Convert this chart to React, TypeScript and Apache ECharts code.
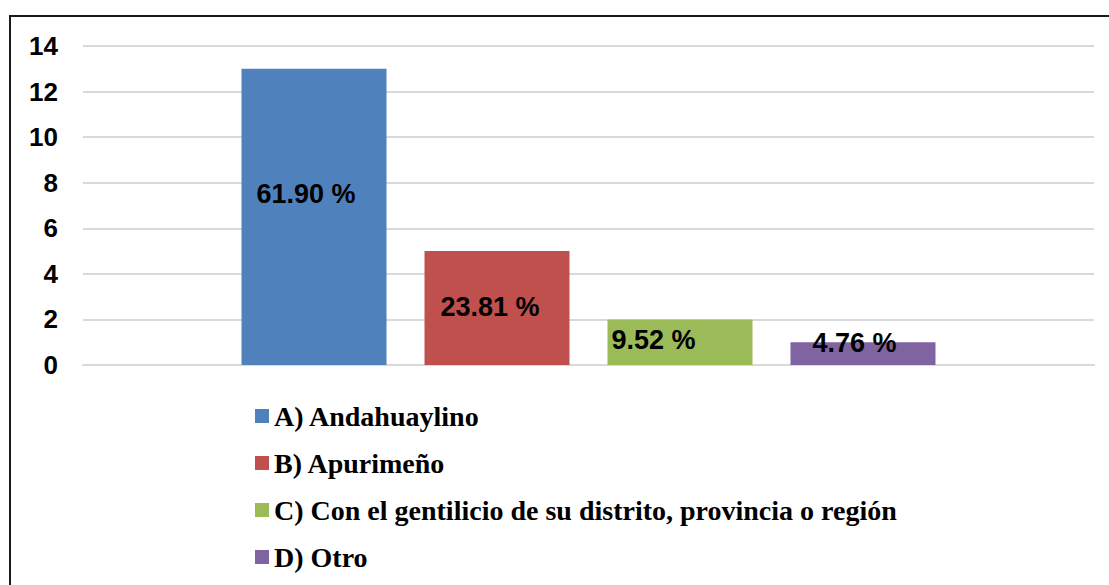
import React, { useEffect, useRef } from "react";
import * as echarts from "echarts";

const categories = [
  "A) Andahuaylino",
  "B) Apurimeño",
  "C) Con el gentilicio de su distrito, provincia o región",
  "D) Otro",
];
const values = [13, 5, 2, 1];
const percentLabels = ["61.90 %", "23.81 %", "9.52 %", "4.76 %"];
const yTicks = { min: 0, max: 14, interval: 2 };

const colors = ["#4F81BD", "#C0504D", "#9BBB59", "#8064A2"];
const labelOffsets: [number, number][] = [
  [15, 125],
  [16, 56],
  [4, 21],
  [22, 1],
];
const SERIF = "Liberation Serif";
const SANS = "Liberation Sans";

export default function App() {
  const ref = useRef<HTMLDivElement>(null);
  useEffect(() => {
    if (!ref.current) return;
    const chart = echarts.init(ref.current, undefined, { renderer: "svg" });
    chart.setOption({
      animation: false,
      backgroundColor: "#ffffff",
      textStyle: { fontFamily: SERIF },
      grid: { left: 83, right: 15, top: 46, bottom: 220, containLabel: false },
      xAxis: {
        type: "category",
        data: [""],
        axisTick: { show: false },
        axisLabel: { show: false },
        axisLine: { lineStyle: { color: "#d9d9d9", width: 2 } },
      },
      yAxis: {
        type: "value",
        min: yTicks.min,
        max: yTicks.max,
        interval: yTicks.interval,
        axisLine: { show: false },
        axisTick: { show: false },
        axisLabel: {
          color: "#000",
          fontFamily: SANS,
          fontWeight: "bold",
          fontSize: 26,
          margin: 25,
        },
        splitLine: { lineStyle: { color: "#d9d9d9", width: 2 } },
      },
      legend: {
        orient: "vertical",
        left: 250,
        top: 397,
        itemWidth: 14,
        itemHeight: 14,
        itemGap: 19,
        icon: "rect",
        formatter: "{s|{name}}",
        textStyle: {
          color: "#000",
          fontFamily: SERIF,
          fontWeight: "bold",
          fontSize: 28,
          rich: {
            s: {
              color: "#000",
              fontFamily: SERIF,
              fontWeight: "bold",
              fontSize: 28,
              lineHeight: 28,
            },
          },
        },
        data: categories,
      },
      graphic: [
        {
          type: "rect",
          shape: { x: 10, y: 16, width: 1200, height: 700 },
          style: { fill: "none", stroke: "#1a1a1a", lineWidth: 2 },
          silent: true,
        },
      ],
      series: categories.map((name, i) => ({
        type: "bar",
        name,
        data: [values[i]],
        barWidth: 145,
        barGap: "26.2%",
        itemStyle: { color: colors[i] },
        label: {
          show: true,
          position: labelOffsets[i],
          align: "left",
          verticalAlign: "middle",
          formatter: () => percentLabels[i],
          color: "#000",
          fontFamily: SANS,
          fontWeight: "bold",
          fontSize: 27,
        },
      })),
    });
    return () => chart.dispose();
  }, []);
  return (
    <div
      ref={ref}
      style={{ position: "fixed", left: 0, top: 0, width: 1109, height: 585 }}
    />
  );
}
